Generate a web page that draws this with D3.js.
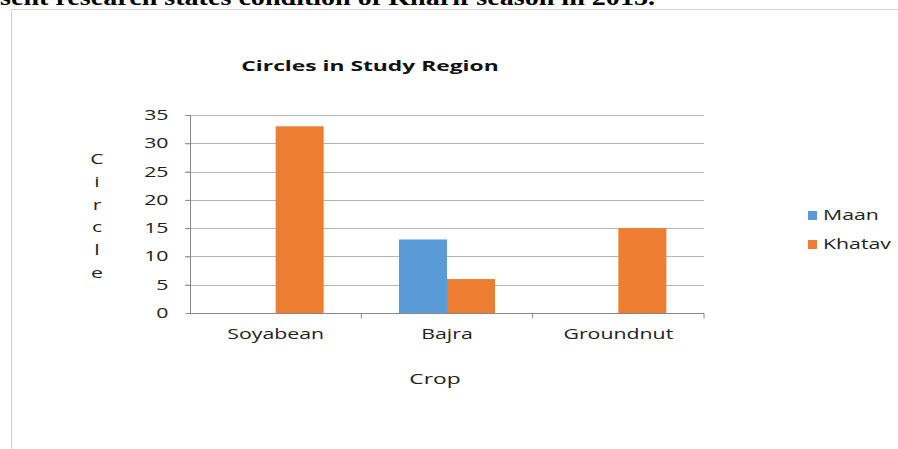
<!DOCTYPE html>
<html>
<head>
<meta charset="utf-8">
<script src="https://cdn.jsdelivr.net/npm/d3@7"></script>
<style>
  body { margin: 0; background: #fff; }
  svg { display: block; }
</style>
</head>
<body>
<script>
var crops = ["Soyabean", "Bajra", "Groundnut"];
var seriesNames = ["Maan", "Khatav"];
var maanValues = [0, 13, 0];
var khatavValues = [33, 6, 15];
var yTicks = [0, 5, 10, 15, 20, 25, 30, 35];
var colors = ["#5b9bd5", "#ed7d31"];

var W = 898, H = 449;
var svg = d3.select("body").append("svg").attr("width", W).attr("height", H);

// the source image was stretched sideways, so widen glyphs
function stretch(sel, k) {
    sel.each(function () {
        var l = this.getComputedTextLength();
        d3.select(this).attr("textLength", l * k).attr("lengthAdjust", "spacingAndGlyphs");
    });
}

// clipped sentence from the page above
svg.append("text")
    .attr("x", 0).attr("y", 5)
    .attr("textLength", 655).attr("lengthAdjust", "spacingAndGlyphs")
    .style("font-family", "Liberation Serif, serif")
    .style("font-weight", "bold")
    .style("font-size", "24px")
    .text("sent research states condition of Kharif season in 2015.");

// chart frame
svg.append("path")
    .attr("d", "M11.5," + H + "V9.5H" + W)
    .attr("fill", "none")
    .attr("stroke", "#d0d0d0");

var x0 = d3.scaleBand().domain(crops).range([190, 704]);
var x1 = d3.scaleBand().domain(seriesNames).range([0, 96]);
var y = d3.scaleLinear().domain([0, 35]).range([313, 115]);

var font = "Open Sans, sans-serif";
var K = 1.52;

// gridlines
svg.append("g").selectAll("line").data(yTicks.slice(1)).join("line")
    .attr("x1", 185).attr("x2", 704)
    .attr("y1", function (d) { return Math.round(y(d)) + 0.5; })
    .attr("y2", function (d) { return Math.round(y(d)) + 0.5; })
    .attr("stroke", "#b4b4b4");

// bars
var rows = crops.map(function (c, i) {
    return [{ s: "Maan", v: maanValues[i] }, { s: "Khatav", v: khatavValues[i] }];
});
svg.append("g").selectAll("g").data(rows).join("g")
    .attr("transform", function (d, i) {
        return "translate(" + (x0(crops[i]) + x0.bandwidth() / 2 - 48) + ",0)";
    })
    .selectAll("rect").data(function (d) { return d; }).join("rect")
    .attr("x", function (d) { return x1(d.s); })
    .attr("width", x1.bandwidth())
    .attr("y", function (d) { return y(d.v); })
    .attr("height", function (d) { return y(0) - y(d.v); })
    .attr("fill", function (d, i) { return colors[i]; });

// y axis
var yAxis = svg.append("g")
    .attr("transform", "translate(190.5,0)")
    .call(d3.axisLeft(y).tickValues(yTicks).tickSize(5).tickPadding(17));
yAxis.selectAll("line, path").attr("stroke", "#888");
yAxis.select(".domain").attr("d", "M0," + y(35) + "V" + y(0));
yAxis.selectAll("text")
    .style("font-family", font).style("font-size", "14px").attr("fill", "#222")
    .call(stretch, K);

// x axis
var xAxis = svg.append("g")
    .attr("transform", "translate(0," + (Math.round(y(0)) + 0.5) + ")")
    .call(d3.axisBottom(x0).tickSize(0).tickPadding(16));
xAxis.select(".domain").attr("stroke", "#888").attr("d", "M190,0H704");
xAxis.selectAll(".tick line").remove();
xAxis.selectAll("g.sep").data(crops).join("line")
    .attr("x1", function (d) { return x0(d) + x0.bandwidth(); })
    .attr("x2", function (d) { return x0(d) + x0.bandwidth(); })
    .attr("y1", 0).attr("y2", 5).attr("stroke", "#888");
xAxis.selectAll("text")
    .style("font-family", font).style("font-size", "14px").attr("fill", "#222")
    .call(stretch, K);

// titles
svg.append("text")
    .attr("x", 370).attr("y", 71)
    .attr("text-anchor", "middle")
    .style("font-family", font).style("font-weight", "bold").style("font-size", "15px")
    .attr("fill", "#111")
    .text("Circles in Study Region")
    .call(stretch, K);

svg.append("text")
    .attr("x", 435).attr("y", 384)
    .attr("text-anchor", "middle")
    .style("font-family", font).style("font-size", "15px").attr("fill", "#222")
    .text("Crop")
    .call(stretch, K);

svg.append("g").selectAll("text").data("Circle".split("")).join("text")
    .attr("x", 97)
    .attr("y", function (d, i) { return 164 + i * 22.8; })
    .attr("text-anchor", "middle")
    .style("font-family", font).style("font-size", "14px").attr("fill", "#222")
    .text(function (d) { return d; })
    .call(stretch, K);

// legend
var leg = svg.append("g").selectAll("g").data(seriesNames).join("g")
    .attr("transform", function (d, i) { return "translate(808," + (211 + i * 29) + ")"; });
leg.append("rect").attr("width", 9).attr("height", 9)
    .attr("fill", function (d, i) { return colors[i]; });
leg.append("text").attr("x", 15).attr("y", 9)
    .style("font-family", font).style("font-size", "14px").attr("fill", "#222")
    .text(function (d) { return d; })
    .call(stretch, K);
</script>
</body>
</html>
